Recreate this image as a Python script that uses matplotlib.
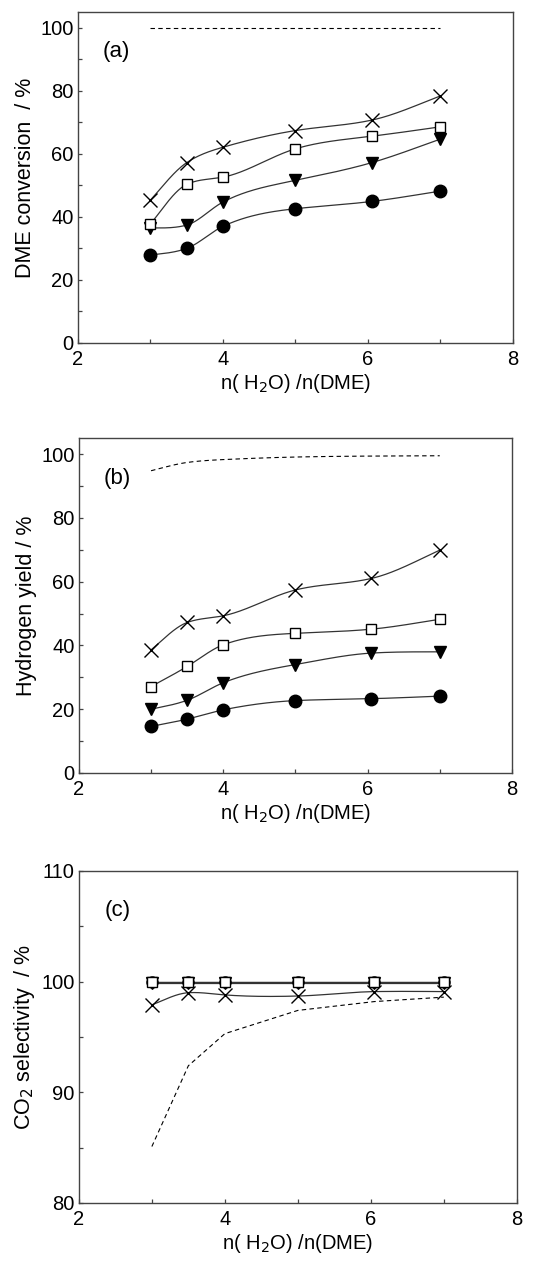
import numpy as np
import matplotlib
matplotlib.use("Agg")
import matplotlib.pyplot as plt
from matplotlib.ticker import MultipleLocator

plt.rcParams['font.family'] = ['Liberation Sans', 'DejaVu Sans']

# ---- data ----
x = [3.0, 3.5, 4.0, 5.0, 6.05, 7.0]

conv_x = [45.3, 57.2, 62.1, 67.4, 70.7, 78.4]
conv_sq = [37.7, 50.3, 52.6, 61.6, 65.6, 68.6]
conv_tri = [36.5, 37.4, 44.7, 51.6, 57.2, 64.7]
conv_ci = [27.9, 30.0, 37.0, 42.6, 44.9, 48.2]
conv_eq = [100, 100, 100, 100, 100, 100]

yld_x = [38.6, 47.2, 49.3, 57.4, 61.0, 69.9]
yld_sq = [27.1, 33.4, 40.2, 43.8, 45.1, 48.2]
yld_tri = [20.0, 22.8, 28.3, 34.0, 37.6, 38.0]
yld_ci = [14.6, 16.9, 19.8, 22.7, 23.3, 24.1]
yld_eq = [94.8, 97.4, 98.3, 99.1, 99.4, 99.5]

sel_x = [97.9, 99.0, 98.8, 98.7, 99.1, 99.1]
sel_sq = [100, 100, 100, 100, 100, 100]
sel_tri = [99.9, 99.9, 99.9, 99.9, 99.9, 99.9]
sel_ci = [100, 100, 100, 100, 100, 100]
sel_eq = [85.1, 92.4, 95.3, 97.4, 98.2, 98.6]

xticks = [2, 4, 6, 8]
xlabel_txt = r'n( H$_2$O) /n(DME)'


def _natural(xs, ys, xx):
    N = len(xs)
    h = np.diff(xs)
    A = np.zeros((N, N))
    b = np.zeros(N)
    A[0, 0] = 1
    A[-1, -1] = 1
    for i in range(1, N - 1):
        A[i, i - 1] = h[i - 1]
        A[i, i] = 2 * (h[i - 1] + h[i])
        A[i, i + 1] = h[i]
        b[i] = 6 * ((ys[i + 1] - ys[i]) / h[i] - (ys[i] - ys[i - 1]) / h[i - 1])
    M = np.linalg.solve(A, b)
    idx = np.clip(np.searchsorted(xs, xx) - 1, 0, N - 2)
    x0, x1 = xs[idx], xs[idx + 1]
    hh = x1 - x0
    return (M[idx] * (x1 - xx) ** 3 / (6 * hh) + M[idx + 1] * (xx - x0) ** 3 / (6 * hh)
            + (ys[idx] / hh - M[idx] * hh / 6) * (x1 - xx)
            + (ys[idx + 1] / hh - M[idx + 1] * hh / 6) * (xx - x0))


def _pchip(xs, ys, xx):
    h = np.diff(xs)
    d = np.diff(ys) / h
    m = np.zeros_like(ys)
    m[0] = d[0]
    m[-1] = d[-1]
    for i in range(1, len(xs) - 1):
        if d[i - 1] * d[i] <= 0:
            m[i] = 0
        else:
            w1 = 2 * h[i] + h[i - 1]
            w2 = h[i] + 2 * h[i - 1]
            m[i] = (w1 + w2) / (w1 / d[i - 1] + w2 / d[i])
    idx = np.clip(np.searchsorted(xs, xx) - 1, 0, len(xs) - 2)
    t = (xx - xs[idx]) / h[idx]
    return ((2 * t**3 - 3 * t**2 + 1) * ys[idx] + (t**3 - 2 * t**2 + t) * h[idx] * m[idx]
            + (-2 * t**3 + 3 * t**2) * ys[idx + 1] + (t**3 - t**2) * h[idx] * m[idx + 1])


def smooth(xs, ys, n=300):
    """Smooth drawing curve through the measured points."""
    xs = np.asarray(xs, float)
    ys = np.asarray(ys, float)
    xx = np.linspace(xs[0], xs[-1], n)
    return xx, 0.5 * (_natural(xs, ys, xx) + _pchip(xs, ys, xx))


fig = plt.figure(figsize=(5.44, 12.68), dpi=100)
lc = '#333333'
FS = 14.5


def style(ax, ylim, ymaj, ymin, label, tag):
    ax.set_xlim(2, 8)
    ax.set_ylim(*ylim)
    ax.set_xticks(xticks)
    ax.xaxis.set_minor_locator(MultipleLocator(1))
    ax.yaxis.set_major_locator(MultipleLocator(ymaj))
    ax.yaxis.set_minor_locator(MultipleLocator(ymin))
    ax.tick_params(which='both', direction='in', length=3, width=0.9,
                   color='#444444', labelsize=FS, top=False, right=False, pad=3)
    ax.tick_params(axis='x', pad=5)
    for s in ax.spines.values():
        s.set_color('#444444')
        s.set_linewidth(1.0)
    ax.set_xlabel(xlabel_txt, fontsize=FS, labelpad=2)
    ax.set_ylabel(label, fontsize=15.5, labelpad=3)
    ax.text(0.058, 0.88, tag, transform=ax.transAxes, fontsize=16, va='center', ha='left')


def draw(ax, xs, ys, marker, ms, face='none', mew=1.0):
    xx, yy = smooth(xs, ys)
    ax.plot(xx, yy, color=lc, lw=0.9, zorder=2)
    ax.plot(xs, ys, ls='none', marker=marker, ms=ms, mfc=face, mec='black',
            mew=mew, zorder=3)


# (a)
axa = fig.add_axes([0.143, 0.7295, 0.80, 0.261])
axa.plot(x, conv_eq, ls='--', color='black', lw=0.8, dashes=(4, 3))
draw(axa, x, conv_ci, 'o', 9, 'black')
draw(axa, x, conv_tri, 'v', 9, 'black')
draw(axa, x, conv_sq, 's', 7.5, 'white')
draw(axa, x, conv_x, 'x', 10)
style(axa, (0, 105), 20, 10, 'DME conversion  / %', '(a)')

# (b)
axb = fig.add_axes([0.145, 0.3904, 0.796, 0.264])
xe, ye = smooth(x, yld_eq)
axb.plot(xe, ye, ls='--', color='black', lw=0.8, dashes=(4, 3))
draw(axb, x, yld_ci, 'o', 9, 'black')
draw(axb, x, yld_tri, 'v', 9, 'black')
draw(axb, x, yld_sq, 's', 7.5, 'white')
draw(axb, x, yld_x, 'x', 10)
style(axb, (0, 105), 20, 10, 'Hydrogen yield / %', '(b)')

# (c)
axc = fig.add_axes([0.145, 0.0513, 0.805, 0.2618])
axc.plot(x, sel_eq, ls='--', color='black', lw=0.8, dashes=(4, 3))
draw(axc, x, sel_ci, 'o', 8, 'black')
draw(axc, x, sel_tri, 'v', 8, 'black')
draw(axc, x, sel_sq, 's', 7.5, 'white')
draw(axc, x, sel_x, 'x', 10)
style(axc, (80, 110), 10, 5, r'CO$_2$ selectivity  / %', '(c)')

fig.savefig('out.png', dpi=100)
